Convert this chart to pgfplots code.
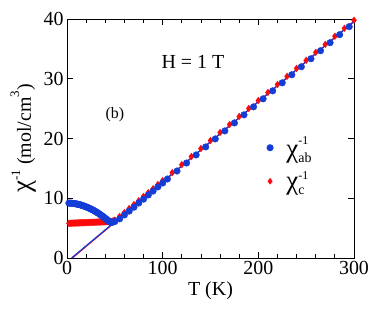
\documentclass[border=0pt]{standalone}
\usepackage{fontspec}
\setmainfont{Liberation Serif}
\usepackage{pgfplots}
\pgfplotsset{compat=1.18}
\definecolor{cblue}{RGB}{20,60,215}
\definecolor{cred}{RGB}{250,10,10}
\newcommand\chisym{\scalebox{1.35}{χ}}
\newcommand\chileg[1]{\hspace{11bp}\chisym\raisebox{-5bp}{\vbox{\offinterlineskip\hbox{\fontsize{12}{13}\selectfont -1}\vskip8bp\hbox{\fontsize{14}{15}\selectfont #1}}}}
\begin{document}
\begin{tikzpicture}
\begin{axis}[name=ax, scale only axis, width=287bp, height=239bp,
 xmin=0,xmax=300,ymin=0,ymax=40,
 xtick={0,100,200,300}, ytick={0,10,20,30,40},
 minor x tick num=4,
 tick align=inside,
 major tick length=6bp, minor tick length=4bp,
 every tick/.style={black, line width=0.8bp},
 axis line style={line width=0.9bp},
 tick label style={font=\fontsize{20}{24}\selectfont},
 /pgf/number format/assume math mode=true,
 xlabel={T (K)}, ylabel={\chisym\raisebox{0.55em}{\fontsize{13}{15}\selectfont -1} (mol/cm\raisebox{0.6em}{\fontsize{13}{15}\selectfont 3})},
 label style={font=\fontsize{20}{24}\selectfont},
 clip=false,
 legend style={draw=none, fill=none, at={(0.685,0.525)}, anchor=north west, font=\fontsize{20}{24}\selectfont, row sep=9bp},
 legend cell align=left,
]
\addlegendimage{only marks, mark=*, mark size=3.3bp, color=cblue}
\addlegendentry{\chileg{ab}}
\addlegendimage{only marks, mark=diamond*, mark size=3bp, color=cred}
\addlegendentry{\chileg{c}}
% red chi_c
\addplot[forget plot, only marks, mark=diamond*, mark size=3.3bp, color=cred] coordinates {
(2,5.80)(3,5.81)(4,5.82)(5,5.82)(6,5.83)(7,5.84)(8,5.85)(9,5.85)(10,5.86)(11,5.87)(12,5.87)(13,5.88)(14,5.89)(15,5.89)(16,5.90)(17,5.91)(18,5.91)(19,5.92)(20,5.93)(21,5.93)(22,5.94)(23,5.95)(24,5.96)(25,5.96)(26,5.97)(27,5.98)(28,5.98)(29,5.99)(30,6.00)(31,6.00)(32,6.01)(33,6.02)(34,6.02)(35,6.03)(36,6.04)(37,6.04)(38,6.05)(39,6.06)(40,6.07)(41,6.07)(42,6.08)(43,6.09)(44,6.09)(45,6.10)(46,6.12)(47,6.15)(48,6.20)(49,6.27)
(50,6.35)(55,6.95)(60,7.6)(65,8.3)(70,8.95)(75,9.6)(80,10.3)(85,10.95)(90,11.6)(95,12.3)(100,12.95)
(110,14.29)(120,15.63)(130,16.98)(140,18.32)(150,19.66)(160,21.0)(170,22.34)(180,23.69)(190,25.03)(200,26.37)(210,27.71)(220,29.05)(230,30.40)(240,31.74)(250,33.08)(260,34.42)(270,35.76)(280,37.11)(290,38.45)(300,39.79)
};
% blue chi_ab
\addplot[forget plot, only marks, mark=*, mark size=3.3bp, color=cblue] coordinates {
(2,9.19)(3,9.19)(4,9.17)(5,9.16)(6,9.14)(7,9.12)(8,9.10)(9,9.07)(10,9.04)(11,9.01)(12,8.97)(13,8.93)(14,8.89)(15,8.84)(16,8.79)(17,8.74)(18,8.68)(19,8.62)(20,8.56)(21,8.49)(22,8.43)(23,8.35)(24,8.28)(25,8.20)(26,8.12)(27,8.03)(28,7.95)(29,7.85)(30,7.76)(31,7.66)(32,7.56)(33,7.46)(34,7.35)(35,7.24)(36,7.13)(37,7.01)(38,6.89)(39,6.77)(40,6.64)(41,6.51)(42,6.38)(43,6.24)(44,6.10)(45,6.00)(46,5.95)(47,5.98)(48,6.02)
(50,6.1)(55,6.55)(60,7.2)(65,7.85)(70,8.5)(75,9.2)(80,9.85)(85,10.55)(90,11.2)(95,11.9)(100,12.55)
(105,13.22)(115,14.56)(125,15.90)(135,17.25)(145,18.59)(155,19.93)(165,21.27)(175,22.61)(185,23.96)(195,25.30)(205,26.64)(215,27.98)(225,29.32)(235,30.67)(245,32.01)(255,33.35)(265,34.69)(275,36.03)(285,37.38)(295,38.72)
};
\addplot[forget plot, cred, line width=1.2bp] coordinates {(5.6,0)(300,39.62)};
\addplot[forget plot, cblue, line width=1.2bp] coordinates {(4.8,0)(300,39.58)};
\node[font=\fontsize{20}{24}\selectfont] at (axis cs:131.7,32.9) {H = 1 T};
\node[font=\fontsize{16}{19}\selectfont] at (axis cs:50,24) {(b)};
\end{axis}
\pgfresetboundingbox
\path ([shift={(-67bp,-53bp)}]ax.south west) rectangle ([shift={(20bp,19bp)}]ax.north east);
\end{tikzpicture}
\end{document}
